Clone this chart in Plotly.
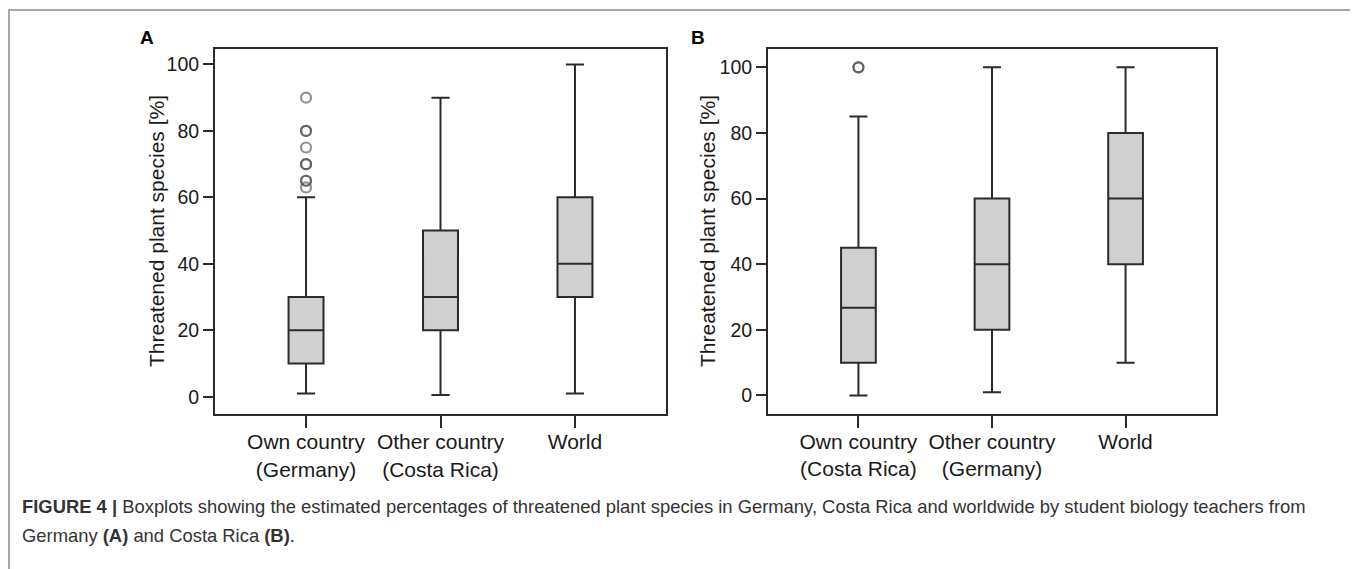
import plotly.graph_objects as go

# page body has an 8px default margin: figure is sized/offset so that
# reference pixel coordinates map directly.
OFF = 8
W, H = 1358 - OFF, 569 - OFF

# ---- data ----
cats_A = ["Own country<br>(Germany)", "Other country<br>(Costa Rica)", "World"]
low_A = [1, 0.5, 1]
q1_A = [10, 20, 30]
med_A = [20, 30, 40]
q3_A = [30, 50, 60]
up_A = [60, 90, 100]
out_A = [90, 80, 80, 75, 70, 70, 65, 65, 63]

cats_B = ["Own country<br>(Costa Rica)", "Other country<br>(Germany)", "World"]
low_B = [0, 1, 10]
q1_B = [10, 20, 40]
med_B = [26.7, 40, 60]
q3_B = [45, 60, 80]
up_B = [85, 100, 100]
out_B = [100, 100]

yticks = [0, 20, 40, 60, 80, 100]

FONT = "Liberation Sans, Arial, sans-serif"
LINE = "#2b2b2b"
FILL = "#d0d0d0"

fig = go.Figure()

def add_panel(xref, yref, cats, lo, q1, med, q3, up, outs, out_idx):
    pos = list(range(len(cats)))
    fig.add_trace(go.Box(
        x=pos, q1=q1, median=med, q3=q3, lowerfence=lo, upperfence=up,
        xaxis=xref, yaxis=yref, width=0.26, whiskerwidth=0.52,
        fillcolor=FILL, line=dict(color=LINE, width=2),
        boxpoints=False, showlegend=False, hoverinfo="skip"))
    fig.add_trace(go.Scatter(
        x=[out_idx] * len(outs), y=outs, mode="markers",
        xaxis=xref, yaxis=yref, showlegend=False, hoverinfo="skip",
        marker=dict(symbol="circle-open", size=10,
                    color="rgba(70,70,70,0.6)",
                    line=dict(width=2.2, color="rgba(70,70,70,0.6)"))))

add_panel("x", "y", cats_A, low_A, q1_A, med_A, q3_A, up_A, out_A, 0)
add_panel("x2", "y2", cats_B, low_B, q1_B, med_B, q3_B, up_B, out_B, 0)

def px_x(p):
    return (p - OFF) / W

def px_y(p):
    return 1 - (p - OFF) / H

common_x = dict(showline=True, mirror=True, linecolor=LINE, linewidth=2,
                ticks="outside", ticklen=12, tickwidth=2, tickcolor=LINE,
                ticklabelstandoff=-4,
                tickfont=dict(family=FONT, size=21, color="#1a1a1a"),
                showgrid=False, zeroline=False, range=[-0.677, 2.677],
                tickvals=[0, 1, 2])
common_y = dict(showline=True, mirror=True, linecolor=LINE, linewidth=2,
                ticks="outside", ticklen=10, tickwidth=2, tickcolor=LINE,
                tickfont=dict(family=FONT, size=19.5, color="#1a1a1a"),
                showgrid=False, zeroline=False, tickvals=yticks,
                ticktext=[str(v) for v in yticks])

fig.update_layout(
    width=W, height=H, margin=dict(l=0, r=0, t=0, b=0),
    paper_bgcolor="white", plot_bgcolor="white",
    xaxis=dict(common_x, domain=[px_x(215), px_x(666)], anchor="y",
               ticktext=cats_A),
    yaxis=dict(common_y, domain=[px_y(414), px_y(48.5)], anchor="x",
               range=[-5.2, 104.8]),
    xaxis2=dict(common_x, domain=[px_x(768), px_x(1216)], anchor="y2",
                ticktext=cats_B),
    yaxis2=dict(common_y, domain=[px_y(413.5), px_y(49.3)], anchor="x2",
                range=[-5.5, 105.5]),
)

annots = [
    dict(text="<b>A</b>", x=px_x(147), y=px_y(38)),
    dict(text="<b>B</b>", x=px_x(698), y=px_y(38)),
]
for a in annots:
    fig.add_annotation(xref="paper", yref="paper", showarrow=False,
                       xanchor="center", yanchor="middle",
                       font=dict(family=FONT, size=19, color="black"), **a)

for xc in (157, 708):
    fig.add_annotation(xref="paper", yref="paper", showarrow=False,
                       x=px_x(xc), y=px_y(231), textangle=-90,
                       xanchor="center", yanchor="middle",
                       text="Threatened plant species [%]",
                       font=dict(family=FONT, size=21, color="#1a1a1a"))

cap1 = ("<b>FIGURE 4 |</b> Boxplots showing the estimated percentages of threatened plant "
        "species in Germany, Costa Rica and worldwide by student biology teachers from")
cap2 = "Germany <b>(A)</b> and Costa Rica <b>(B)</b>."
for txt, yc in ((cap1, 506), (cap2, 535)):
    fig.add_annotation(xref="paper", yref="paper", showarrow=False,
                       x=px_x(20), y=px_y(yc), xanchor="left", yanchor="middle",
                       text=txt, font=dict(family=FONT, size=18.4, color="#333333"))

fig.add_shape(type="rect", xref="paper", yref="paper",
              x0=px_x(9), x1=px_x(1352), y0=px_y(590), y1=px_y(10),
              line=dict(color="#8a8a8a", width=1.5), fillcolor="rgba(0,0,0,0)")

fig.write_html("out.html")
